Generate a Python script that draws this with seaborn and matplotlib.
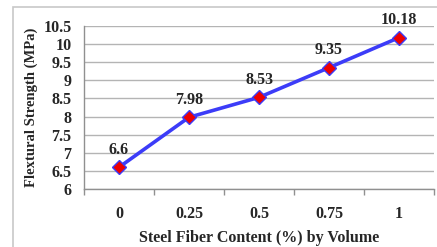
import numpy as np
import pandas as pd
import matplotlib.pyplot as plt
import seaborn as sns
from matplotlib.patches import Rectangle

fiber = ['0', '0.25', '0.5', '0.75', '1']
strength = [6.6, 7.98, 8.53, 9.35, 10.18]
labels = ['6.6', '7.98', '8.53', '9.35', '10.18']
yticks = [6, 6.5, 7, 7.5, 8, 8.5, 9, 9.5, 10, 10.5]

df = pd.DataFrame({'fiber': fiber, 'strength': strength})

sns.set_style('white')
plt.rcParams['font.family'] = ['Liberation Serif', 'DejaVu Serif']
plt.rcParams['font.weight'] = 'bold'

fs = 11.5
fig = plt.figure(figsize=(4.37, 2.47), dpi=100)
ax = fig.add_axes([84 / 437, 1 - 189 / 247, 350 / 437, 163 / 247])

# outer chart frame
fig.patches.append(Rectangle((13 / 437, -0.05), 1.0, 1 - 7 / 247 + 0.05,
                             transform=fig.transFigure, fill=False,
                             edgecolor='#c8c8c8', linewidth=1.2))

ax.grid(axis='y', color='#b4b4b4', linewidth=1)
ax.set_axisbelow(True)

sns.lineplot(x='fiber', y='strength', data=df, sort=False, ax=ax,
             color='#3c3cf8', linewidth=2.6, marker='D', markersize=7.5,
             markerfacecolor='#ee0000', markeredgecolor='#3c3cf8',
             markeredgewidth=1.0)

for i, (v, t) in enumerate(zip(strength, labels)):
    ax.annotate(t, (i, v), xytext=(0, 7), textcoords='offset points',
                ha='center', va='bottom', fontsize=fs, fontweight='bold')

ax.set_xlim(-0.5, 4.5)
ax.set_ylim(6, 10.5)
ax.set_yticks(yticks)
ax.set_yticklabels([('%g' % y) for y in yticks], fontsize=fs, fontweight='bold')
ax.set_xticks(range(len(fiber)))
ax.set_xticklabels(fiber, fontsize=fs, fontweight='bold')
ax.set_xticks(np.arange(-0.5, 4.6, 1), minor=True)
ax.tick_params(axis='x', which='major', length=0, pad=12)
ax.tick_params(axis='x', which='minor', length=4, color='#909090', width=1, direction='out', bottom=True)
ax.tick_params(axis='y', length=0, pad=9)

for s in ['top', 'right']:
    ax.spines[s].set_visible(False)
for s in ['left', 'bottom']:
    ax.spines[s].set_color('#909090')
    ax.spines[s].set_linewidth(1)

ax.set_xlabel('Steel Fiber Content (%) by Volume', fontsize=fs, fontweight='bold', labelpad=6)
ax.set_ylabel('Flextural Strength (MPa)', fontsize=10.5, fontweight='bold', labelpad=4)

fig.savefig('out.png', dpi=100)
